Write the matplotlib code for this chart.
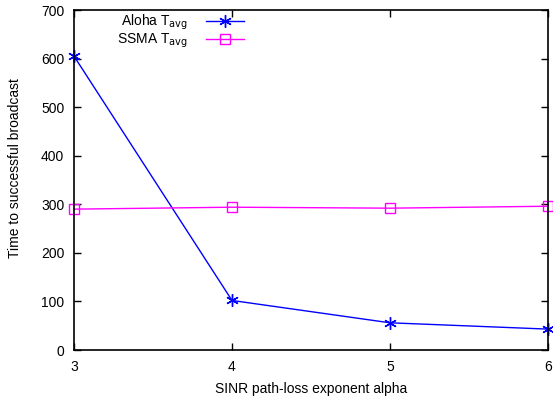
import numpy as np
import matplotlib.pyplot as plt

plt.rcParams['font.family'] = ['Liberation Sans', 'DejaVu Sans']

alpha = [3, 4, 5, 6]
aloha_tavg = [605, 102, 56, 43]
ssma_tavg = [290, 294, 292, 296]

fig = plt.figure(figsize=(5.53, 3.98), dpi=100)
ax = fig.add_axes([74 / 553, 1 - 350 / 398, 474 / 553, 340 / 398])

ax.plot(alpha, aloha_tavg, color='#0000ff', lw=1, marker=(6, 2, 0), ms=9,
        mew=1, label=r'Aloha T$_{\mathrm{avg}}$', clip_on=False)
ax.plot(alpha, ssma_tavg, color='#ff00ff', lw=1, marker='s', ms=7,
        mfc='none', mew=1, label=r'SSMA T$_{\mathrm{avg}}$', clip_on=False)

ax.set_xlim(3, 6)
ax.set_ylim(0, 700)
ax.set_xticks(alpha)
ax.set_yticks(range(0, 701, 100))
ax.tick_params(direction='in', top=True, right=True, labelsize=10, length=5,
               width=1, pad=7)
for s in ax.spines.values():
    s.set_linewidth(1.2)
ax.set_xlabel('SINR path-loss exponent alpha', fontsize=10, labelpad=6)
fig.text(15 / 553, 1 - 168 / 398, 'Time to successful broadcast', fontsize=10,
         rotation=90, ha='center', va='center')
ax.legend(loc='upper right', bbox_to_anchor=(250 / 553, 1 - 7 / 398),
          bbox_transform=fig.transFigure, frameon=False,
          markerfirst=False, fontsize=10, handlelength=2.8, labelspacing=0.0,
          handletextpad=1.3, borderaxespad=0)

fig.savefig('out.png', dpi=100)
